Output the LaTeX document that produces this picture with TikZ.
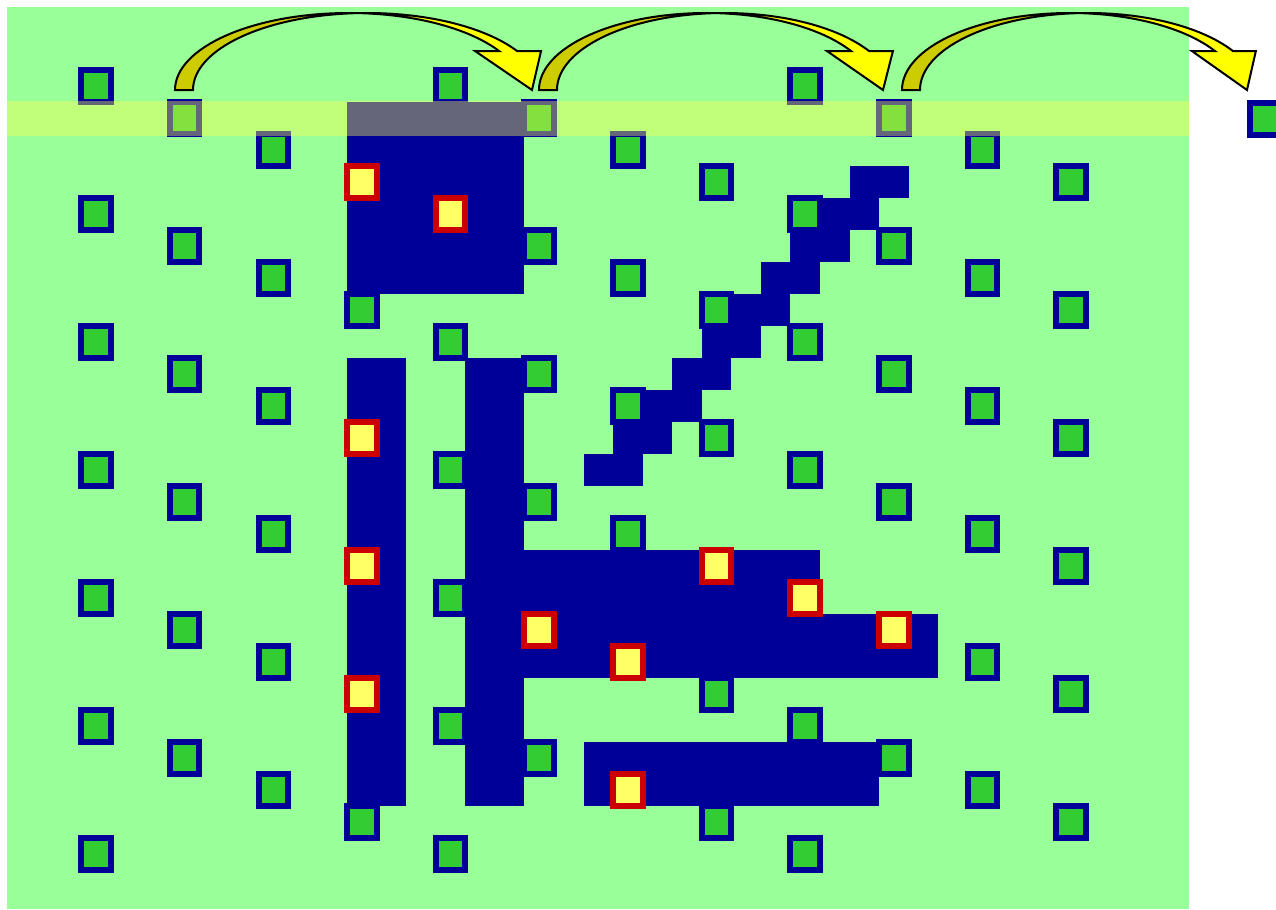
\documentclass[tikz,border=0pt]{standalone}
\usepackage{tikz}
\definecolor{bgc}{HTML}{99FF99}
\definecolor{navy}{HTML}{000099}
\definecolor{grn}{HTML}{33CC33}
\definecolor{redb}{HTML}{CC0000}
\definecolor{yelf}{HTML}{FFFF66}
\definecolor{bandc}{HTML}{FFFF50}
\definecolor{arrlite}{HTML}{FFFF00}
\definecolor{arrdark}{HTML}{CCCC00}
\expandafter\def\csname red-3-3\endcsname{}
\expandafter\def\csname red-4-4\endcsname{}
\expandafter\def\csname red-3-11\endcsname{}
\expandafter\def\csname red-3-15\endcsname{}
\expandafter\def\csname red-3-19\endcsname{}
\expandafter\def\csname red-5-17\endcsname{}
\expandafter\def\csname red-6-18\endcsname{}
\expandafter\def\csname red-7-15\endcsname{}
\expandafter\def\csname red-8-16\endcsname{}
\expandafter\def\csname red-9-17\endcsname{}
\expandafter\def\csname red-6-22\endcsname{}
\tikzset{
  sqbase/.style={rectangle, inner sep=0pt, outer sep=0pt, minimum width=14.75pt, minimum height=16pt, line width=3pt},
  grnsq/.style={sqbase, draw=navy, fill=grn},
  redsq/.style={sqbase, draw=redb, fill=yelf},
  blockfill/.style={fill=navy},
  arrowlite/.style={fill=arrlite},
  arrowdark/.style={fill=arrdark},
  arrowline/.style={draw=black, line width=1pt, line join=miter},
}
% fine grid: X(k)=81.2+29.55k, Y(m)=70+32m
\newcommand\blk[4]{%
  \fill[blockfill] ({81.2+29.55*#1},{70+32*#2}) rectangle ({81.2+29.55*#3},{70+32*#4});}
\newcommand\ppcurvarrow[4]{% l, wR, th, aw
  \pgfmathsetmacro\aL{#1}
  \pgfmathsetmacro\aCa{#1+#2}
  \pgfmathsetmacro\aCb{#1+#2+#3}
  \pgfmathsetmacro\aXv{\aCa+0.862253*#2}
  \pgfmathsetmacro\aXvii{\aCb+0.862253*#2}
  \pgfmathsetmacro\aDh{(#4-#3)/2}
  \pgfmathsetmacro\aXiv{\aXv-\aDh}
  \pgfmathsetmacro\aXviii{\aXvii+\aDh}
  \pgfmathsetmacro\aXvi{#1+2*#2+#3/2}
  \pgfmathsetmacro\aDel{asin(#3/2/#2)}
  \pgfmathsetmacro\aIx{\aCa+#3/2}
  \pgfmathsetmacro\aIy{90-77*cos(\aDel)}
  \pgfmathsetmacro\aSa{270-\aDel}
  \pgfmathsetmacro\aSb{270+\aDel}
  \fill[arrowlite] (\aXiv,51) -- (\aXv,51) arc[start angle=329.57,end angle=270,x radius=#2,y radius=77] -- (\aCb,13) arc[start angle=270,end angle=329.57,x radius=#2,y radius=77] -- (\aXviii,51) -- (\aXvi,90) -- cycle;
  \fill[arrowdark] (\aIx,\aIy) arc[start angle=\aSa,end angle=180,x radius=#2,y radius=77] -- (\aL,90) arc[start angle=180,end angle=\aSb,x radius=#2,y radius=77] -- cycle;
  \draw[arrowline] (\aIx,\aIy) arc[start angle=\aSa,end angle=180,x radius=#2,y radius=77] -- (\aL,90) arc[start angle=180,end angle=270,x radius=#2,y radius=77] -- (\aCb,13) arc[start angle=270,end angle=329.57,x radius=#2,y radius=77] -- (\aXviii,51) -- (\aXvi,90) -- (\aXiv,51) -- (\aXv,51) arc[start angle=329.57,end angle=270,x radius=#2,y radius=77];
}
\begin{document}
\begin{tikzpicture}[x=0.5pt,y=-0.5pt]
\useasboundingbox (0,0) rectangle (1276,910);
% background
\fill[bgc] (7,7) rectangle (1189,909);
% dark blue regions
\blk{9}{1}{15}{7}
\blk{9}{9}{11}{23}
\blk{13}{9}{15}{23}
\blk{13}{15}{25}{17}
\blk{13}{17}{29}{19}
\blk{17}{21}{27}{23}
\foreach \m in {3,...,12}{
  \pgfmathtruncatemacro\ka{29-\m}
  \pgfmathtruncatemacro\kb{31-\m}
  \pgfmathtruncatemacro\mb{\m+1}
  \blk{\ka}{\m}{\kb}{\mb}
}
% squares
\foreach \i in {0,...,11}{
  \foreach \j in {0,...,6}{
    \pgfmathtruncatemacro\m{mod(\i,4)+4*\j}
    \pgfmathsetmacro\xx{96+88.64*\i}
    \pgfmathsetmacro\yy{86+32*\m}
    \ifnum\m<25
      \ifcsname red-\i-\m\endcsname
        \node[redsq] (s-\i-\m) at (\xx,\yy) {};
      \else
        \node[grnsq] (s-\i-\m) at (\xx,\yy) {};
      \fi
    \fi
  }
}
% translucent band
\fill[bandc, opacity=0.4] (7,101) rectangle (1189,136);
% square outside the field
\node[grnsq] (out) at (1265,119) {};
% curved arrows
\ppcurvarrow{175}{174}{18}{66}
\ppcurvarrow{539}{167.5}{18}{66}
\ppcurvarrow{902}{168}{18}{64}
\end{tikzpicture}
\end{document}
